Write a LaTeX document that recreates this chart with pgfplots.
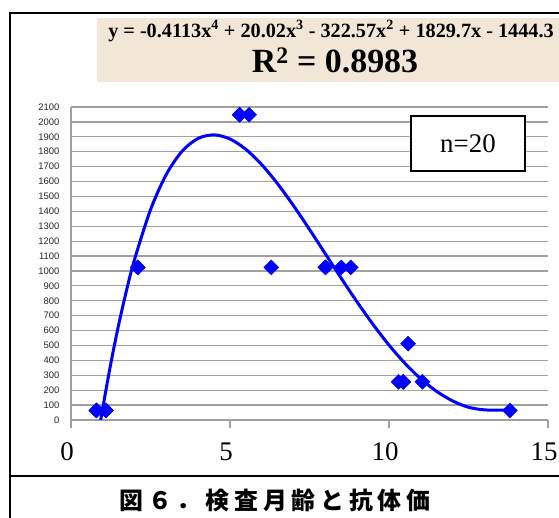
\documentclass[border=0pt]{standalone}
\usepackage{fontspec}
\setmainfont{Liberation Serif}
\newfontfamily\sansf{Liberation Sans}
\newfontfamily\cjk[LetterSpace=20]{Noto Sans CJK JP}
\usepackage{pgfplots}
\pgfplotsset{compat=1.18}
\definecolor{beige}{RGB}{242,230,214}
\definecolor{gridgray}{RGB}{160,160,160}
\begin{document}
\begin{tikzpicture}
\useasboundingbox (0bp,0bp) rectangle (559bp,518bp);
\fill[beige] (97bp,500bp) rectangle (562bp,436bp);
\draw[line width=2bp] (10bp,-5bp) -- (10bp,505bp) -- (565bp,505bp);
\draw[line width=2bp] (10bp,42bp) -- (565bp,42bp);
\node[font=\bfseries\fontsize{20.3}{20.3}\selectfont] at (331bp,487bp) {y = -0.4113x\textsuperscript{4} + 20.02x\textsuperscript{3} - 322.57x\textsuperscript{2} + 1829.7x - 1444.3};
\node[font=\bfseries\fontsize{34}{34}\selectfont] at (335bp,458bp) {R\textsuperscript{2} = 0.8983};
\begin{axis}[at={(71bp,98bp)}, anchor=south west, scale only axis,
  width=477bp, height=313bp,
  xmin=0, xmax=15, ymin=0, ymax=2100,
  axis lines*=left,
  axis line style={gridgray, line width=1.2bp},
  ymajorgrids, grid style={gridgray, line width=1.2bp},
  xtick={0,5,10,15}, ytick={0,100,...,2100},
  tick align=outside, major tick length=8bp,
  ytick style={draw=none},
  xtick style={gridgray, line width=1.2bp},
  yticklabel style={font=\sansf\fontsize{9.5}{9.5}\selectfont, text=black!85},
  xticklabel style={font=\fontsize{27}{27}\selectfont, yshift=-11bp, xshift=-4bp},
  /pgf/number format/assume math mode=true,
  /pgf/number format/set thousands separator={},
]
\addplot[blue, line width=3bp, smooth] coordinates {
(0.935,0) (1,82.4) (1.25,376.9) (1.5,640) (1.75,873.2) (2,1078.4) (2.5,1410.6)
(3,1648.9) (3.5,1804.8) (4,1889.4) (4.5,1913) (5,1885.4) (5.5,1815.8) (6,1712.7)
(6.5,1584) (7,1437) (7.5,1278.5) (8,1114.4) (8.5,950.2) (9,790.9) (9.5,640.5)
(10,502.7) (10.5,380.5) (11,276.2) (11.5,191.6) (12,127.9) (12.5,85.5) (13,68)
(13.5,66) (13.8,68)};
\addplot[only marks, blue, mark=square*, mark size=5.3bp, mark options={rotate=45, fill=blue, draw=blue}] coordinates {
(0.8,64) (1.1,64) (0.8,64) (1.1,64) (2.1,1024) (5.3,2048) (5.6,2048) (5.3,2048)
(6.3,1024) (8.0,1024) (8.5,1024) (8.8,1024) (8.0,1024)
(10.6,512) (10.3,256) (10.45,256) (11.05,256) (10.45,256) (13.8,64) (2.1,1024)};
\end{axis}
\node[draw, line width=1.5bp, fill=white, minimum width=114bp, minimum height=55bp, font=\fontsize{27}{27}\selectfont] at (468bp,374.5bp) {n=20};
\node[font=\cjk\bfseries\fontsize{24}{24}\selectfont] at (275bp,18bp) {図６．検査月齢と抗体価};
\end{tikzpicture}
\end{document}
